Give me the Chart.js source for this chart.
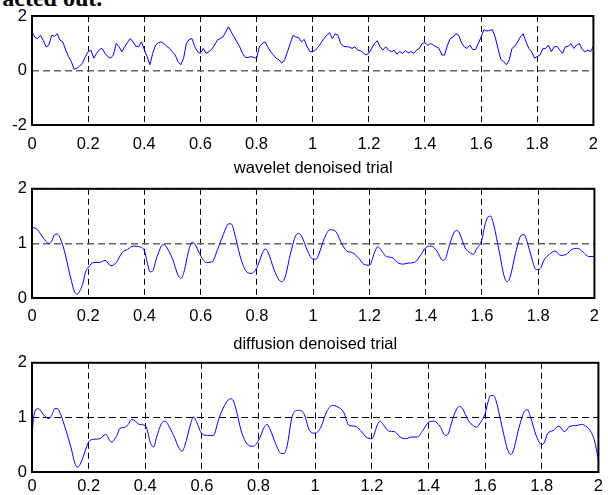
<!DOCTYPE html>
<html>
<head>
<meta charset="utf-8">
<script src="https://cdn.jsdelivr.net/npm/chart.js@4/dist/chart.umd.min.js"></script>
<style>
    html, body { margin: 0; padding: 0; background: #fff; }
    body { width: 608px; height: 495px; position: relative; overflow: hidden; }
    canvas { position: absolute; left: 0; }
    #clipText {
        position: absolute; left: -39px; top: -14px;
        font: bold 24px/24px "Liberation Serif", serif; color: #000; white-space: nowrap;
    }
</style>
</head>
<body>
<div id="clipText">extracted out.</div>
<canvas id="trialChart" width="608" height="160" style="top:0px"></canvas>
<canvas id="waveletChart" width="608" height="175" style="top:150px"></canvas>
<canvas id="diffusionChart" width="608" height="170" style="top:325px"></canvas>
<script>
/**
 * Donnees (temps en s)
 */
const TRIAL_DT = 0.01;
const trialValues = [
    1.41, 1.23, 1.17, 1.29, 1.11, 0.87, 0.93, 1.29, 1.26, 1.35,
    1.11, 1.05, 0.75, 0.51, 0.33, 0.05, 0.08, 0.17, 0.27, 0.51,
    0.69, 0.75, 0.45, 0.63, 0.77, 0.81, 0.63, 0.51, 0.45, 0.57,
    0.99, 0.87, 0.69, 0.87, 1.02, 1.17, 1.05, 0.89, 0.87, 1.05,
    0.77, 0.51, 0.21, 0.63, 0.93, 1.02, 1.05, 0.99, 0.89, 0.81,
    0.69, 0.57, 0.33, 0.21, 0.45, 0.99, 1.14, 1.17, 0.87, 0.69,
    0.63, 0.81, 0.63, 0.69, 0.77, 0.93, 1.11, 1.17, 1.23, 1.41,
    1.60, 1.41, 1.23, 1.05, 0.87, 0.63, 0.48, 0.48, 0.51, 0.48,
    0.45, 0.87, 0.99, 1.05, 0.87, 0.69, 0.57, 0.45, 0.39, 0.27,
    0.39, 0.69, 0.99, 1.29, 1.23, 1.21, 1.05, 1.14, 0.87, 0.69,
    0.69, 0.75, 0.87, 1.02, 1.17, 1.29, 1.39, 1.17, 1.35, 1.29,
    0.99, 0.89, 0.87, 0.87, 0.81, 0.87, 0.75, 0.73, 0.65, 0.57,
    0.63, 0.81, 0.99, 1.09, 0.87, 0.75, 0.87, 0.75, 0.69, 0.75,
    0.60, 0.69, 0.63, 0.73, 0.65, 0.69, 0.63, 0.75, 0.81, 0.99,
    1.02, 0.93, 0.99, 0.93, 0.87, 0.81, 0.57, 0.57, 0.93, 1.17,
    1.23, 1.35, 1.29, 1.02, 0.87, 0.81, 0.93, 0.77, 0.77, 0.99,
    1.23, 1.50, 1.45, 1.47, 1.50, 1.23, 0.81, 0.41, 0.33, 0.21,
    0.39, 0.81, 0.89, 1.05, 1.23, 1.35, 1.05, 0.81, 0.69, 0.45,
    0.51, 0.57, 0.81, 0.81, 0.93, 0.69, 0.87, 0.89, 0.75, 0.63,
    0.87, 0.89, 0.99, 0.81, 0.93, 0.99, 0.77, 0.69, 0.75, 0.69,
    0.89
];

const waveletTimes = [
    0, 0.02, 0.04, 0.06, 0.07, 0.08, 0.09, 0.10,
    0.12, 0.13, 0.14, 0.15, 0.16, 0.17, 0.18, 0.19, 0.20,
    0.22, 0.24, 0.26, 0.28, 0.30, 0.32, 0.34, 0.36, 0.38, 0.40,
    0.41, 0.42, 0.43, 0.44, 0.46, 0.47, 0.48, 0.50,
    0.52, 0.53, 0.54, 0.56, 0.57, 0.58, 0.60,
    0.62, 0.64, 0.66, 0.68, 0.70, 0.71, 0.72, 0.74, 0.76, 0.78, 0.80,
    0.82, 0.83, 0.84, 0.86, 0.88, 0.89, 0.90,
    0.92, 0.94, 0.95, 0.96, 0.98, 1.00,
    1.01, 1.02, 1.04, 1.06, 1.08, 1.10,
    1.12, 1.14, 1.16, 1.18, 1.20,
    1.22, 1.23, 1.24, 1.26, 1.28, 1.30, 1.32, 1.34, 1.36, 1.38, 1.40,
    1.42, 1.44, 1.46, 1.47, 1.48, 1.50, 1.51, 1.52,
    1.54, 1.56, 1.57, 1.58, 1.60,
    1.61, 1.62, 1.63, 1.64, 1.66, 1.68, 1.69, 1.70,
    1.72, 1.74, 1.75, 1.76, 1.78, 1.79, 1.80,
    1.81, 1.82, 1.84, 1.86, 1.88, 1.90, 1.92, 1.94, 1.96, 1.98, 2.00
];
const waveletValues = [
    1.30, 1.25, 1.10, 1.00, 1.04, 1.16, 1.17, 1.10,
    0.77, 0.53, 0.32, 0.13, 0.07, 0.13, 0.25, 0.47, 0.56,
    0.65, 0.65, 0.69, 0.59, 0.65, 0.83, 0.89, 0.95, 0.94, 0.86,
    0.65, 0.48, 0.50, 0.68, 0.95, 0.98, 0.92, 0.71,
    0.41, 0.36, 0.47, 0.92, 1.02, 0.98, 0.77,
    0.65, 0.66, 0.89, 1.16, 1.36, 1.35, 1.19, 0.77, 0.50, 0.45, 0.56,
    0.83, 0.90, 0.83, 0.53, 0.32, 0.30, 0.38,
    0.83, 1.16, 1.18, 1.12, 0.86, 0.71,
    0.71, 0.80, 1.10, 1.25, 1.22, 1.01,
    0.86, 0.83, 0.74, 0.62, 0.60,
    0.86, 0.94, 0.89, 0.76, 0.74, 0.65, 0.62, 0.64, 0.65, 0.77, 0.92,
    0.95, 0.86, 0.69, 0.71, 0.89, 1.19, 1.24, 1.19,
    0.92, 0.82, 0.80, 0.89, 1.07,
    1.32, 1.47, 1.50, 1.38, 0.89, 0.38, 0.30, 0.38,
    0.83, 1.15, 1.16, 1.04, 0.68, 0.53, 0.52,
    0.56, 0.69, 0.80, 0.86, 0.78, 0.80, 0.89, 0.91, 0.84, 0.76, 0.76
];

const diffusionTimes = [
    0, 0.005, 0.02, 0.03, 0.04, 0.06, 0.07, 0.08, 0.09, 0.10,
    0.12, 0.14, 0.15, 0.16, 0.17, 0.18, 0.20, 0.21, 0.22, 0.24,
    0.26, 0.28, 0.30, 0.31, 0.32, 0.34, 0.35, 0.36, 0.38, 0.40,
    0.42, 0.43, 0.44, 0.46, 0.47, 0.48, 0.50, 0.52, 0.53, 0.54,
    0.56, 0.57, 0.58, 0.60, 0.62, 0.64, 0.66, 0.68, 0.70, 0.71,
    0.72, 0.74, 0.76, 0.78, 0.80, 0.82, 0.83, 0.84, 0.86, 0.88,
    0.89, 0.90, 0.92, 0.94, 0.96, 0.98, 1.00, 1.02, 1.04, 1.06,
    1.08, 1.10, 1.12, 1.14, 1.16, 1.18, 1.20, 1.22, 1.23, 1.24,
    1.26, 1.28, 1.30, 1.32, 1.34, 1.36, 1.38, 1.40, 1.42, 1.44,
    1.46, 1.47, 1.48, 1.50, 1.51, 1.52, 1.54, 1.56, 1.57, 1.58,
    1.60, 1.61, 1.62, 1.63, 1.64, 1.66, 1.68, 1.69, 1.70, 1.72,
    1.74, 1.75, 1.76, 1.78, 1.80, 1.81, 1.82, 1.84, 1.86, 1.88,
    1.90, 1.92, 1.94, 1.96, 1.98, 1.99, 2.00
];
const diffusionValues = [
    0.62, 0.98, 1.16, 1.13, 1.05, 0.98, 1.04, 1.16, 1.16, 1.07,
    0.76, 0.40, 0.18, 0.09, 0.14, 0.27, 0.55, 0.59, 0.60, 0.61,
    0.69, 0.55, 0.67, 0.80, 0.81, 0.87, 0.96, 0.95, 0.87, 0.85,
    0.51, 0.46, 0.64, 0.91, 0.93, 0.87, 0.67, 0.43, 0.38, 0.49,
    0.88, 1.01, 0.93, 0.70, 0.67, 0.67, 0.98, 1.22, 1.34, 1.31,
    1.16, 0.73, 0.51, 0.47, 0.58, 0.82, 0.87, 0.79, 0.52, 0.34,
    0.34, 0.46, 1.04, 1.13, 1.07, 0.76, 0.71, 0.82, 1.10, 1.22,
    1.19, 1.10, 0.85, 0.84, 0.76, 0.64, 0.61, 0.87, 0.93, 0.87,
    0.75, 0.74, 0.64, 0.61, 0.64, 0.64, 0.76, 0.91, 0.93, 0.84,
    0.67, 0.70, 0.88, 1.16, 1.20, 1.16, 0.95, 0.84, 0.82, 0.88,
    1.07, 1.28, 1.40, 1.40, 1.28, 0.82, 0.40, 0.32, 0.40, 0.82,
    1.12, 1.14, 1.01, 0.67, 0.50, 0.55, 0.70, 0.76, 0.84, 0.74,
    0.84, 0.85, 0.87, 0.82, 0.67, 0.49, 0.21
];

const X_MIN = 0, X_MAX = 2, X_STEP = 0.2;

const FONT_FAMILY = "'Liberation Sans', Arial, Helvetica, sans-serif";
const LINE_COLOR = '#0000ff';

/**
 * Cadre noir autour de la zone de trace (style MATLAB)
 */
const framePlugin = {
    id: 'frame',
    afterDraw(chart) {
        const { ctx, chartArea: a } = chart;
        ctx.save();
        ctx.strokeStyle = '#000';
        ctx.lineWidth = 2;
        ctx.strokeRect(a.left, a.top, a.right - a.left, a.bottom - a.top);
        ctx.restore();
    }
};

function toPoints(times, values) {
    return times.map((t, i) => ({ x: t, y: values[i] }));
}

function buildChart(id, opts) {
    const ctx = document.getElementById(id);
    return new Chart(ctx, {
        type: 'line',
        data: {
            datasets: [{
                data: opts.points,
                borderColor: LINE_COLOR,
                borderWidth: 1,
                pointRadius: 0,
                tension: opts.smooth ? 0.4 : 0,
                cubicInterpolationMode: opts.smooth ? 'monotone' : 'default'
            }]
        },
        options: {
            responsive: false,
            animation: false,
            layout: { padding: { top: opts.padTop, right: 9, left: 0, bottom: 0 } },
            plugins: {
                legend: { display: false },
                tooltip: { enabled: false },
                title: {
                    display: !!opts.title,
                    text: opts.title || '',
                    fullSize: false,
                    color: '#000',
                    font: { family: FONT_FAMILY, size: 16.5, weight: 'normal' },
                    padding: opts.titlePad || 0
                }
            },
            scales: {
                x: {
                    type: 'linear',
                    min: X_MIN,
                    max: X_MAX,
                    afterFit: (scale) => { scale.height = opts.xHeight; },
                    grid: { color: '#000', lineWidth: 1, drawTicks: false },
                    border: { display: false, dash: [6, 4] },
                    ticks: {
                        stepSize: X_STEP,
                        padding: opts.xPad,
                        color: '#000',
                        maxRotation: 0,
                        font: { family: FONT_FAMILY, size: 16.5 },
                        callback: (v) => String(Number(v.toFixed(1)))
                    }
                },
                y: {
                    min: opts.yMin,
                    max: opts.yMax,
                    afterFit: (scale) => { scale.width = 32; },
                    // ligne horizontale un peu grisee sur les deux premiers graphes
                    grid: { color: opts.hGridColor || '#000', lineWidth: opts.hGridWidth || 1, drawTicks: false },
                    border: { display: false, dash: [7, 4] },
                    ticks: {
                        stepSize: opts.yStep,
                        padding: 5,
                        color: '#000',
                        font: { family: FONT_FAMILY, size: 16.5 }
                    }
                }
            }
        },
        plugins: [framePlugin]
    });
}

document.addEventListener('DOMContentLoaded', function () {
    const trialTimes = trialValues.map((_, i) => i * TRIAL_DT);

    buildChart('trialChart', {
        points: toPoints(trialTimes, trialValues),
        smooth: false,
        padTop: 16, xHeight: 35, xPad: 10,
        yMin: -2, yMax: 2, yStep: 2,
        hGridColor: '#666', hGridWidth: 1.5
    });

    buildChart('waveletChart', {
        points: toPoints(waveletTimes, waveletValues),
        smooth: true,
        title: 'wavelet denoised trial',
        titlePad: { top: 9, bottom: 10 },
        padTop: 0, xHeight: 27, xPad: 9,
        yMin: 0, yMax: 2, yStep: 1,
        hGridColor: '#666', hGridWidth: 1.5
    });

    buildChart('diffusionChart', {
        points: toPoints(diffusionTimes, diffusionValues),
        smooth: true,
        title: 'diffusion denoised trial',
        titlePad: { top: 10, bottom: 8 },
        padTop: 0, xHeight: 23, xPad: 5,
        yMin: 0, yMax: 2, yStep: 1
    });
});
</script>
</body>
</html>
